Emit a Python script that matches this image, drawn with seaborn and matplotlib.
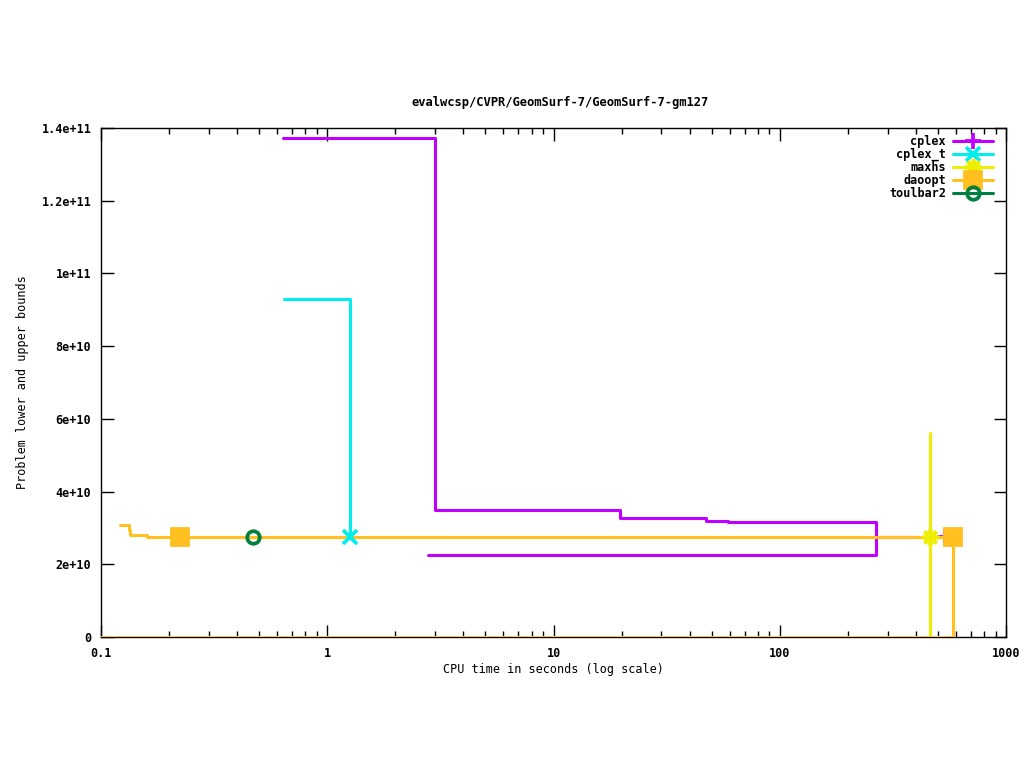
import seaborn as sns
import matplotlib.pyplot as plt
import pandas as pd
import numpy as np
from matplotlib.lines import Line2D

# series data (time in s, bound value)
cplex_ub_t = [0.64, 2.99, 19.6, 47.0, 59.0, 266.0, 396.0]
cplex_ub_v = [1.3725e11, 3.49e10, 3.27e10, 3.19e10, 3.16e10, 2.74e10, 2.74e10]
cplex_lb_t = [2.79, 266.0, 396.0]
cplex_lb_v = [2.255e10, 2.74e10, 2.74e10]
cplex_mark = ([538.0], [2.74e10])

cplext_ub_t = [0.644, 1.26, 1.26]
cplext_ub_v = [9.30e10, 2.75e10, 2.75e10]
cplext_mark = ([1.26], [2.75e10])

maxhs_t = [462.0, 462.0]
maxhs_v = [0.0, 5.61e10]
maxhs_mark = ([462.0], [2.75e10])

daoopt_ub_t = [0.121, 0.1335, 0.135, 0.159, 583.0]
daoopt_ub_v = [3.08e10, 2.95e10, 2.805e10, 2.75e10, 2.75e10]
daoopt_lb_t = [0.09, 583.0, 583.0]
daoopt_lb_v = [0.0, 2.75e10, 2.75e10]
daoopt_mark = ([0.223, 583.0], [2.75e10, 2.75e10])

toulbar2_mark = ([0.47], [2.75e10])

names = ['cplex', 'cplex_t', 'maxhs', 'daoopt', 'toulbar2']
colors = ['#c000ff', '#00eeee', '#eeee00', '#ffc020', '#008040']
markers = ['+', 'x', (8, 2, 0), 's', 'o']
msizes = [12, 10, 12, 11, 9]

yticks = [0, 2e10, 4e10, 6e10, 8e10, 1e11, 1.2e11, 1.4e11]
ytick_labels = ['0', '2e+10', '4e+10', '6e+10', '8e+10', '1e+11', '1.2e+11', '1.4e+11']
xticks = [0.1, 1, 10, 100, 1000]
xtick_labels = ['0.1', '1', '10', '100', '1000']

sns.set_style('white')
plt.rcParams['font.family'] = ['DejaVu Sans Mono']
plt.rcParams['font.weight'] = 'bold'
plt.rcParams['font.size'] = 8.5

fig = plt.figure(figsize=(10.24, 7.68), dpi=100)
ax = fig.add_axes([101 / 1024, 1 - 637 / 768, 905 / 1024, 509 / 768])

lw = 2.2

def step(t, v, c, z):
    df = pd.DataFrame({'t': t, 'v': v})
    sns.lineplot(data=df, x='t', y='v', ax=ax, color=c, lw=lw, estimator=None,
                 sort=False, drawstyle='steps-post', zorder=z)

def mark(pts, i, z):
    m = markers[i]
    ax.plot(pts[0], pts[1], ls='none', marker=m, color=colors[i], ms=msizes[i], mew=2.7,
            mfc=('none' if m == 'o' else colors[i]), zorder=z)

step(cplex_ub_t, cplex_ub_v, colors[0], 2)
step(cplex_lb_t, cplex_lb_v, colors[0], 2)
mark(cplex_mark, 0, 2.5)
step(cplext_ub_t, cplext_ub_v, colors[1], 3)
step(maxhs_t, maxhs_v, colors[2], 4)
step(daoopt_ub_t, daoopt_ub_v, colors[3], 5)
step(daoopt_lb_t, daoopt_lb_v, colors[3], 5)
mark(daoopt_mark, 3, 5.5)
mark(maxhs_mark, 2, 6)
mark(cplext_mark, 1, 6)
mark(toulbar2_mark, 4, 6)

ax.set_xscale('log')
ax.set_xlim(0.1, 1000)
ax.set_ylim(0, 1.4e11)
ax.set_xticks(xticks)
ax.set_xticklabels(xtick_labels)
ax.set_yticks(yticks)
ax.set_yticklabels(ytick_labels)
ax.tick_params(which='major', direction='in', length=9, width=1, top=True, right=True,
               bottom=True, left=True, pad=7, colors='black')
ax.tick_params(which='minor', direction='in', length=4, width=1, top=True, right=True,
               bottom=True, colors='black')
ax.tick_params(axis='y', which='minor', left=False, right=False)
for s in ax.spines.values():
    s.set_color('black')
    s.set_linewidth(1)
    s.set_zorder(1)

ax.set_xlabel('CPU time in seconds (log scale)', labelpad=2, color='black')
ax.set_ylabel('Problem lower and upper bounds', labelpad=9, color='black')
ax.set_title('evalwcsp/CVPR/GeomSurf-7/GeomSurf-7-gm127', pad=16, x=0.507,
             fontsize=8.7, fontweight='bold', color='black')

handles = []
for i, n in enumerate(names):
    m = markers[i]
    handles.append(Line2D([], [], color=colors[i], lw=lw, marker=m, ms=msizes[i], mew=2.7,
                          mfc=('none' if m == 'o' else colors[i])))
leg = ax.legend(handles, names, loc='upper right', bbox_to_anchor=(0.991, 0.9955),
                frameon=False, markerfirst=False, borderaxespad=0,
                handlelength=3.4, labelspacing=0.0, handletextpad=0.6)
for t in leg.get_texts():
    t.set_color('black')

fig.savefig('out.png', dpi=100)
